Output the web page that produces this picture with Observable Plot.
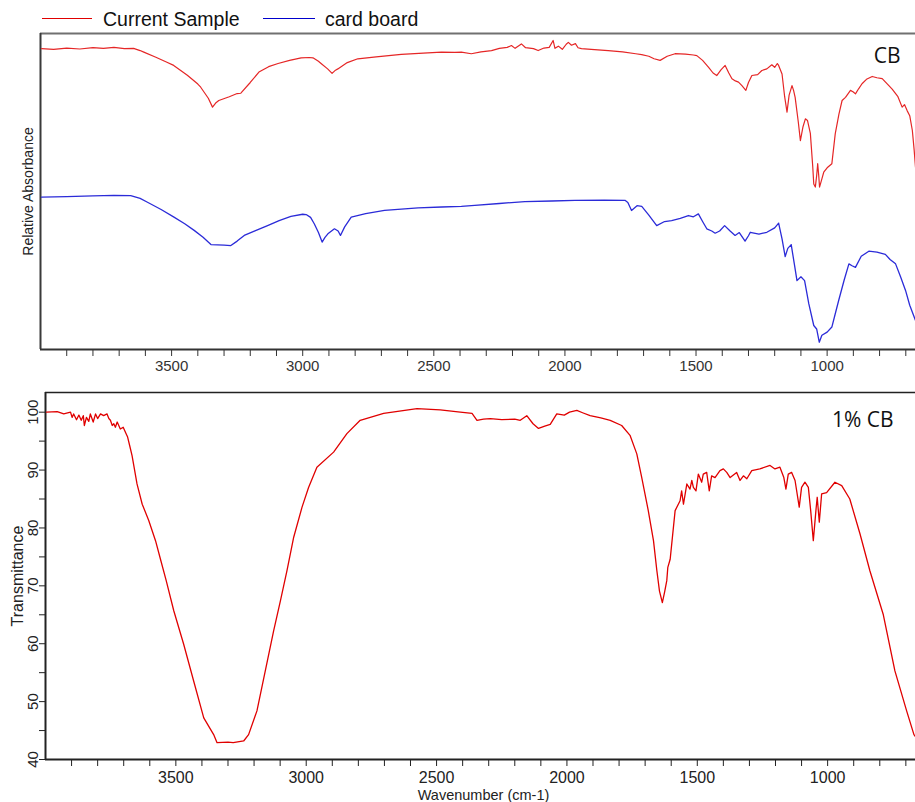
<!DOCTYPE html>
<html><head><meta charset="utf-8">
<script src="https://cdn.jsdelivr.net/npm/d3@7"></script>
<script src="https://cdn.jsdelivr.net/npm/@observablehq/plot@0.6"></script>
<style>
html,body{margin:0;padding:0;background:#fff;overflow:hidden;width:915px;height:802px;}
#legend{position:relative;height:30px;font-family:"Liberation Sans",Arial,sans-serif;font-size:19.5px;color:#111;}
.sw{position:absolute;top:18px;height:0;border-top:1.5px solid;}
.lt{position:absolute;top:9px;line-height:20px;white-space:nowrap;}
svg{display:block}
</style></head>
<body>
<div id="legend">
  <div class="sw" style="left:42px;width:50px;border-color:#e00000"></div>
  <div class="lt" style="left:103px">Current Sample</div>
  <div class="sw" style="left:263px;width:52px;border-color:#0000cc"></div>
  <div class="lt" style="left:325px">card board</div>
</div>
<div id="top"></div>
<div id="bottom"></div>
<script>
// ---------- data ----------
const seriesNames = ["Current Sample", "card board"];
const xDomain = [4000, 663];
const xTickValues = d3.range(700, 4000, 100);
const xLabelStep = 500;
const transTickValues = d3.range(40, 101, 5);
const transLabelValues = [40, 50, 60, 70, 80, 90, 100];

// top panel, Current Sample (CB): [wavenumber, relative absorbance]
const cbSpectrum = [
[3996,95.2],[3950,95.0],[3900,95.4],[3850,95.1],[3800,95.5],[3760,95.3],[3720,95.6],[3680,95.2],[3645,95.3],
[3620,94.6],[3606,94.1],[3560,92.5],[3520,91.0],[3492,89.9],[3440,86.8],[3400,84.0],[3389,83.0],[3360,79.5],
[3344,76.7],[3332,78.0],[3320,78.8],[3280,80.0],[3250,81.0],[3236,81.1],[3200,84.5],[3167,87.8],[3130,89.5],
[3094,90.5],[3050,91.5],[3006,92.3],[2975,92.4],[2961,92.3],[2940,91.2],[2930,90.5],[2905,88.8],[2888,87.4],
[2875,88.4],[2866,88.8],[2830,90.8],[2790,92.0],[2720,92.6],[2624,93.4],[2540,93.8],[2471,94.1],[2420,94.0],
[2395,94.1],[2357,93.6],[2320,94.2],[2280,94.6],[2250,95.3],[2220,95.6],[2204,96.2],[2190,95.3],[2166,96.7],
[2150,95.5],[2120,95.2],[2102,94.6],[2080,95.4],[2060,95.6],[2045,97.8],[2038,95.3],[2025,96.0],[2010,95.0],
[1995,96.6],[1987,97.2],[1975,96.3],[1960,96.8],[1950,95.5],[1937,95.2],[1900,95.0],[1835,94.6],[1780,94.2],
[1730,93.6],[1707,93.3],[1680,92.8],[1660,92.0],[1637,91.5],[1610,92.8],[1580,93.6],[1540,93.5],[1510,93.2],
[1497,93.0],[1475,91.5],[1452,89.3],[1435,87.5],[1421,86.7],[1405,88.5],[1389,89.9],[1375,87.5],[1363,85.7],
[1350,85.0],[1338,84.6],[1325,83.5],[1310,82.0],[1300,84.5],[1287,86.7],[1265,87.0],[1249,88.3],[1230,88.8],
[1211,90.1],[1200,89.3],[1190,90.5],[1185,89.9],[1172,87.2],[1162,80.0],[1153,75.1],[1145,80.5],[1134,83.5],
[1128,82.0],[1122,79.8],[1110,72.0],[1102,66.1],[1092,70.5],[1083,73.0],[1075,72.5],[1064,68.4],[1055,58.0],
[1051,52.4],[1045,51.4],[1040,55.0],[1036,58.8],[1032,55.0],[1029,51.4],[1020,54.0],[1013,56.1],[1000,57.5],
[982,58.8],[969,68.3],[955,74.5],[943,78.8],[930,79.8],[911,82.0],[900,81.5],[892,80.9],[880,82.5],[867,84.1],
[850,85.5],[828,86.4],[810,86.0],[790,85.7],[770,84.0],[752,82.4],[730,80.0],[714,76.7],[705,77.5],[695,75.6],
[685,74.0],[675,69.3],[668,63.0],[663,57.7]
];

// top panel, card board reference: [wavenumber, relative absorbance]
const boardSpectrum = [
[3996,48.2],[3900,48.4],[3800,48.6],[3720,48.8],[3656,48.7],[3620,47.8],[3592,46.6],[3540,44.3],[3491,41.9],
[3450,39.8],[3414,37.7],[3380,35.5],[3350,33.2],[3300,33.0],[3274,32.9],[3250,34.3],[3223,36.1],[3180,37.6],
[3134,39.2],[3090,40.8],[3045,42.1],[3000,42.8],[2987,42.7],[2970,41.8],[2956,39.8],[2940,37.0],[2926,34.0],
[2915,35.5],[2904,36.6],[2879,38.2],[2865,37.5],[2856,36.1],[2840,38.8],[2815,41.9],[2760,43.0],[2688,44.0],
[2560,44.8],[2470,45.1],[2395,45.3],[2344,45.6],[2250,46.2],[2153,46.8],[2050,47.0],[1962,47.2],[1850,47.3],
[1771,47.2],[1760,46.5],[1746,44.0],[1725,45.5],[1707,45.3],[1680,42.5],[1650,39.2],[1620,40.5],[1593,40.8],
[1560,41.5],[1529,42.4],[1510,42.0],[1491,42.9],[1475,40.5],[1459,38.2],[1440,37.5],[1427,36.8],[1410,37.5],
[1391,39.2],[1370,37.5],[1351,36.1],[1335,37.0],[1313,34.3],[1300,36.0],[1293,37.1],[1260,36.5],[1230,37.1],
[1200,38.5],[1185,40.0],[1172,35.0],[1160,29.4],[1150,32.0],[1137,33.2],[1125,27.0],[1115,21.8],[1100,23.0],
[1086,21.8],[1070,14.5],[1051,7.6],[1040,6.5],[1030,2.3],[1020,4.5],[1000,5.5],[982,7.1],[970,11.0],[956,15.5],
[935,22.0],[917,27.1],[905,26.5],[892,26.0],[870,29.5],[841,31.1],[810,30.8],[778,30.1],[760,28.5],[739,27.1],
[720,23.0],[701,18.7],[685,14.0],[663,9.2]
];

// bottom panel, 1% CB: [wavenumber, transmittance %]
const pctSpectrum = [
[3996,100.0],[3955,100.1],[3930,99.7],[3904,100.0],[3898,99.1],[3892,99.7],[3881,98.7],[3872,99.5],[3863,98.6],
[3855,99.4],[3851,97.7],[3843,99.1],[3834,98.4],[3828,99.7],[3817,98.3],[3808,99.7],[3800,98.9],[3789,99.7],
[3777,99.4],[3764,99.7],[3757,98.9],[3751,98.6],[3744,97.7],[3738,98.0],[3732,97.4],[3725,98.3],[3713,97.1],
[3702,97.4],[3693,96.5],[3685,95.7],[3677,94.2],[3668,92.5],[3649,87.6],[3629,84.1],[3604,81.3],[3578,77.8],
[3559,74.6],[3537,70.9],[3508,65.7],[3470,59.9],[3432,53.6],[3393,47.2],[3355,44.3],[3342,42.9],[3300,43.0],
[3280,42.9],[3240,43.2],[3221,44.3],[3189,48.4],[3157,55.3],[3125,62.2],[3099,67.4],[3074,72.6],[3048,78.4],
[3016,83.6],[2991,87.0],[2959,90.5],[2895,93.1],[2844,96.3],[2793,98.6],[2703,99.8],[2575,100.6],[2486,100.4],
[2409,100.0],[2364,99.8],[2345,98.6],[2320,98.8],[2294,98.9],[2250,98.7],[2200,98.8],[2179,98.6],[2154,99.4],
[2130,98.0],[2109,97.2],[2085,97.6],[2064,97.9],[2039,99.7],[2010,99.5],[1990,100.0],[1962,100.3],[1940,99.9],
[1911,99.4],[1870,99.0],[1834,98.6],[1790,97.7],[1758,96.0],[1732,92.8],[1713,88.7],[1688,83.0],[1668,77.8],
[1655,72.6],[1645,69.1],[1634,67.1],[1625,69.0],[1617,70.9],[1613,73.2],[1604,74.6],[1585,83.0],[1566,84.7],
[1560,86.4],[1553,84.1],[1540,87.6],[1528,86.7],[1521,88.2],[1515,87.0],[1505,86.4],[1496,89.3],[1483,87.9],
[1477,89.3],[1464,89.6],[1454,86.4],[1445,89.0],[1432,88.7],[1413,89.9],[1400,90.2],[1387,89.6],[1374,88.7],
[1349,89.6],[1336,88.2],[1323,89.0],[1310,88.5],[1291,89.9],[1260,90.2],[1221,90.8],[1202,90.2],[1183,90.5],
[1168,88.7],[1160,86.7],[1151,89.3],[1138,89.6],[1125,88.2],[1109,83.6],[1100,87.0],[1087,87.9],[1074,87.0],
[1065,83.0],[1055,77.8],[1045,83.0],[1040,85.3],[1032,81.0],[1023,85.9],[1004,86.1],[972,87.9],[946,87.3],
[915,85.0],[876,79.0],[838,72.6],[787,65.1],[742,55.3],[697,48.4],[669,44.3],[664,44.0]
];

// ---------- drawing ----------
const xTickFormat = d => (d % xLabelStep === 0 ? String(d) : "");
const centered = {textAnchor: "middle", lineAnchor: "middle"};

const topChart = Plot.plot({
  width: 915, height: 355,
  marginTop: 3, marginBottom: 36, marginLeft: 40, marginRight: 0,
  style: {fontFamily: "Liberation Sans, Arial, sans-serif", fontSize: "15px", color: "#333", background: "white", overflow: "visible"},
  x: {domain: xDomain, ticks: xTickValues, tickFormat: xTickFormat, tickSize: 7, tickPadding: 4, label: null},
  y: {domain: [0, 100], axis: null},
  marks: [
    Plot.ruleY([100], {stroke: "#707070", strokeWidth: 2}),
    Plot.ruleX([xDomain[0]], {stroke: "#3a3a3a", strokeWidth: 2}),
    Plot.ruleY([0], {stroke: "#333", strokeWidth: 2}),
    Plot.line(boardSpectrum, {x: d => d[0], y: d => d[1], stroke: "#2b2bd8", strokeWidth: 1.3}),
    Plot.line(cbSpectrum, {x: d => d[0], y: d => d[1], stroke: "#e52626", strokeWidth: 1.2}),
    Plot.text(["Relative Absorbance"], {...centered, text: d => d, frameAnchor: "left", rotate: -90, dx: -12, fontSize: 14, fill: "#222"}),
    Plot.text(["CB"], {text: d => d, frameAnchor: "top-right", textAnchor: "end", lineAnchor: "middle", dx: -15, dy: 23, fontSize: 21, fontFamily: "Open Sans", fill: "#111"})
  ]
});
document.getElementById("top").append(topChart);

const bottomChart = Plot.plot({
  width: 915, height: 417,
  marginTop: 7, marginBottom: 43, marginLeft: 45, marginRight: 0,
  style: {fontFamily: "Liberation Sans, Arial, sans-serif", fontSize: "16px", color: "#222", background: "white", overflow: "visible"},
  x: {domain: xDomain, ticks: xTickValues, tickFormat: xTickFormat, tickSize: 7, tickPadding: 5, label: null},
  y: {domain: [40, 103.4], ticks: transTickValues, tickFormat: () => "", tickSize: 6, label: null},
  marks: [
    Plot.ruleY([103.4], {stroke: "#222", strokeWidth: 1.5}),
    Plot.ruleX([xDomain[0]], {stroke: "#222", strokeWidth: 2}),
    Plot.ruleY([40], {stroke: "#222", strokeWidth: 2}),
    Plot.line(pctSpectrum, {x: d => d[0], y: d => d[1], stroke: "#e00000", strokeWidth: 1.3}),
    Plot.text(transLabelValues, {...centered, y: d => d, text: d => String(d), frameAnchor: "left", rotate: -90, dx: -12, fontSize: 15, fill: "#222"}),
    Plot.text(["Transmittance"], {...centered, text: d => d, frameAnchor: "left", rotate: -90, dx: -28, fontSize: 16, fill: "#222"}),
    Plot.text(["Wavenumber (cm-1)"], {...centered, text: d => d, frameAnchor: "bottom", dx: 3, dy: 36, fontSize: 14.5, fill: "#222"}),
    Plot.text(["1% CB"], {text: d => d, frameAnchor: "top-right", textAnchor: "end", lineAnchor: "middle", dx: -22, dy: 28, fontSize: 21, fontFamily: "Open Sans", fill: "#111"})
  ]
});
document.getElementById("bottom").append(bottomChart);
</script>
</body></html>
